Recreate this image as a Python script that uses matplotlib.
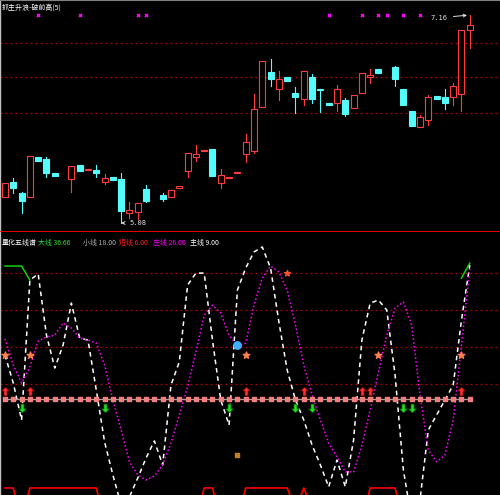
import numpy as np
import matplotlib
matplotlib.use('Agg')
import matplotlib.pyplot as plt
from matplotlib.patches import Rectangle
from matplotlib.path import Path

plt.rcParams['font.family'] = ['Noto Sans CJK SC', 'DejaVu Sans']

nan = np.nan
# daily candles (index = trading day, nan = no bar drawn)
opens = [5.34, 5.49, 5.38, 5.34, 5.74, 5.72, 5.58, nan, 5.52, 5.66,
         5.61, 5.61, 5.49, 5.54, 5.52, 5.18, 5.19, 5.42, nan, 5.36,
         5.34, 5.43, 5.60, 5.74, 5.80, 5.82, 5.48, 5.53, 5.58, 5.77,
         5.80, 6.24, 6.59, 6.42, 6.54, 6.38, 6.32, 6.54, 6.42, 6.28,
         6.28, 6.31, 6.23, 6.38, 6.54, 6.62, nan, 6.64, 6.42, 6.20,
         6.04, 6.11, 6.35, 6.34, 6.34, 6.37, 7.01]
closes = [5.48, 5.43, 5.30, 5.75, 5.70, 5.58, 5.55, nan, 5.65, 5.60,
          5.62, 5.58, 5.53, 5.51, 5.20, 5.21, 5.28, 5.30, nan, 5.32,
          5.41, 5.45, 5.78, 5.77, 5.81, 5.55, 5.56, 5.54, 5.59, 5.89,
          6.22, 6.70, 6.52, 6.52, 6.50, 6.34, 6.60, 6.32, 6.41, 6.26,
          6.42, 6.17, 6.36, 6.58, 6.56, 6.58, nan, 6.52, 6.26, 6.05,
          6.14, 6.34, 6.32, 6.28, 6.45, 7.01, 7.06]
highs = [5.48, 5.53, 5.39, 5.75, 5.74, 5.74, 5.58, nan, 5.65, 5.66,
         5.62, 5.66, 5.57, 5.54, 5.58, 5.29, 5.28, 5.46, nan, 5.38,
         5.41, 5.45, 5.78, 5.86, 5.81, 5.82, 5.62, 5.54, 5.59, 5.97,
         6.37, 6.70, 6.72, 6.60, 6.54, 6.44, 6.60, 6.57, 6.42, 6.28,
         6.46, 6.33, 6.36, 6.58, 6.62, 6.62, nan, 6.65, 6.42, 6.20,
         6.16, 6.36, 6.35, 6.42, 6.48, 7.01, 7.16]
lows = [5.34, 5.38, 5.18, 5.34, 5.70, 5.54, 5.55, nan, 5.39, 5.60,
        5.61, 5.54, 5.47, 5.51, 5.08, 5.13, 5.12, 5.29, nan, 5.30,
        5.34, 5.43, 5.54, 5.70, 5.80, 5.55, 5.43, 5.53, 5.58, 5.69,
        5.78, 6.24, 6.45, 6.31, 6.50, 6.18, 6.26, 6.28, 6.19, 6.26,
        6.20, 6.15, 6.23, 6.38, 6.48, 6.58, nan, 6.45, 6.26, 6.05,
        6.04, 6.06, 6.32, 6.22, 6.26, 6.20, 6.83]
top_signal_days = [4, 9, 16, 17, 39, 43, 45, 46, 48, 50]
price_grid = [6.88, 6.54, 6.18]

# five-line oscillator
zhu_line = [35.6, 20.5, 0.5, 76.1, 79.4, 46.4, 28.6, 41.0, 63.7, 44.8,
            43.7, 16.7, -11.3, -29.2, -45.4, -41.0, -30.8, -20.0, -10.8, -23.8,
            19.4, 31.9, 73.4, 79.9, 79.9, 43.7, 11.3, -2.2, 70.7, 82.6,
            91.3, 94.0, 82.6, 53.5, 27.5, 11.3, 0.5, -13.0, -23.8, -35.6,
            -21.1, -35.6, -10.3, 43.7, 63.7, 65.3, 59.9, 24.8, -26.5, -53.5,
            -42.7, -4.9, 3.2, 11.3, 19.4, 54.5, 84.2]
zhuang_line = [44.3, 30.2, 20.5, 29.2, 43.2, 45.4, 46.4, 52.9, 50.2, 44.8,
               43.7, 42.1, 30.2, 11.3, -4.9, -22.1, -29.2, -31.9, -29.7, -23.8,
               -11.9, 3.2, 18.4, 37.3, 57.2, 62.6, 58.3, 46.4, 40.5, 42.1,
               62.6, 77.2, 83.7, 80.5, 70.7, 51.8, 30.2, 14.0, 0.5, -11.9,
               -19.4, -27.5, -27.5, -13.0, 5.9, 26.5, 46.4, 61.0, 64.3, 51.8,
               14.0, -15.7, -22.1, -18.4, 0.5, 41.0, 82.6]
da_line = [83.7, 83.7, 83.7, 76.1] + [nan] * 51 + [77.2, 85.3]
duan_line = [-36.2, -36.2, -53.5] + [-36.2] * 9 + [-53.5] * 12 + [-36.2, -36.2] \
    + [-53.5] * 3 + [-36.2] * 6 + [-47.5, -36.2, -47.5] + [-53.5] * 6 \
    + [-36.2] * 4 + [-53.5] * 9
base_level = 12.0
osc_grid = [20, 40, 60, 80]
buy_days = [0, 3, 29, 36, 43, 44, 55]
sell_days = [2, 12, 27, 35, 37, 48, 49]
star_days = [0, 3, 29, 45, 55]

days = np.arange(len(opens))
RED = '#ff3c3c'
CYAN = '#54fcfc'

fig = plt.figure(figsize=(5, 4.95), dpi=100, facecolor='black')
ax1 = fig.add_axes([0, 263 / 495, 1, 232 / 495])
ax2 = fig.add_axes([0, 0, 1, 263 / 495])
for ax in (ax1, ax2):
    ax.set_facecolor('black')
    ax.set_xticks([])
    ax.set_yticks([])
    for s in ax.spines.values():
        s.set_visible(False)
    ax.spines['left'].set_visible(True)
    ax.spines['left'].set_color('#c0c0c0')
    ax.spines['left'].set_linewidth(1)
    ax.set_xlim(-0.6, 59.64)
ax1.spines['bottom'].set_visible(True)
ax1.spines['bottom'].set_color('#e00000')
ax1.spines['bottom'].set_linewidth(1.5)
ax1.spines['top'].set_visible(True)
ax1.spines['top'].set_color('#808080')
ax1.set_ylim(4.99, 7.31)
ax2.set_ylim(-40.0, 102.1)

# ---- price panel ----
for g in price_grid:
    ax1.axhline(g, color='#b00000', lw=0.9, ls=(0, (1.5, 2.5)), zorder=1)

w = 0.72
for d, o, c, h, l in zip(days, opens, closes, highs, lows):
    if np.isnan(o):
        continue
    up = c >= o
    col = RED if up else CYAN
    lo_b, hi_b = min(o, c), max(o, c)
    ax1.plot([d, d], [l, h], color=col, lw=0.8, zorder=2)
    ax1.add_patch(Rectangle((d - w / 2, lo_b), w, max(hi_b - lo_b, 0.006),
                            facecolor='black' if up else col, edgecolor=col,
                            lw=0.8, zorder=3))

ax1.scatter(top_signal_days, [7.16] * len(top_signal_days), marker='x',
            s=5, color='#ff00ff', lw=1, zorder=4)

hi_i = int(np.nanargmax(highs))
lo_i = int(np.nanargmin(lows))
ax1.annotate(f'{highs[hi_i]:.2f}', xy=(hi_i, highs[hi_i]), xytext=(-28, -2),
             textcoords='offset points', color='#e0e0e0', fontsize=5,
             family='DejaVu Sans Mono', va='center',
             arrowprops=dict(arrowstyle='->', color='#e0e0e0', lw=0.7))
ax1.annotate(f'{lows[lo_i]:.2f}', xy=(lo_i, lows[lo_i]), xytext=(6, 0),
             textcoords='offset points', color='#e0e0e0', fontsize=5,
             family='DejaVu Sans Mono', va='center',
             arrowprops=dict(arrowstyle='->', color='#e0e0e0', lw=0.7))
ax1.text(0.004, 0.985, '抓主升浪-破前高(5)', transform=ax1.transAxes,
         color='white', fontsize=5, va='top', ha='left')

# ---- oscillator panel ----
for g in osc_grid:
    ax2.axhline(g, color='#b00000', lw=0.9, ls=(0, (1.5, 2.5)), zorder=1)
ax2.plot(days, duan_line, color='#ff0000', lw=1.2, zorder=2)
ax2.plot(days, da_line, color='#10d010', lw=1.1, zorder=2)
ax2.plot(days, zhu_line, color='white', lw=1.1, ls=(0, (3, 2.5)), zorder=3)
ax2.plot(days, zhuang_line, color='#ff00ff', lw=1.1, ls=(0, (1, 1.5)), zorder=3)

ax2.plot([0, days[-1]], [base_level, base_level], color='#a0a0a0', lw=1, zorder=4)
ax2.scatter(days, [base_level] * len(days), marker='s', s=9,
            color='#f08080', zorder=5)

up_arrow = Path([(0, 1), (-0.9, 0.1), (-0.35, 0.1), (-0.35, -1), (0.35, -1),
                 (0.35, 0.1), (0.9, 0.1), (0, 1)])
down_arrow = Path([(x, -y) for x, y in up_arrow.vertices])
ax2.scatter(buy_days, [16.2] * len(buy_days), marker=up_arrow, s=40,
            color='#ff3030', edgecolor='#700000', lw=0.5, zorder=6)
ax2.scatter(sell_days, [7.0] * len(sell_days), marker=down_arrow, s=40,
            color='#20e020', edgecolor='#006000', lw=0.5, zorder=6)
ax2.scatter(star_days, [35.6] * len(star_days), marker='*', s=25,
            color='#ff8050', zorder=6)
ax2.scatter([28], [41.0], marker='o', s=28, color='#40b0ff', zorder=6)
ax2.scatter([34], [80.0], marker='*', s=18, color='#ff5030', zorder=6)
ax2.scatter([28], [-18.4], marker='s', s=9, color='#c08020', zorder=6)

head = [('量化五线谱', 'white', 0.004), ('大线 36.66', '#30e030', 0.076),
        ('小线 18.00', '#b0b0b0', 0.166), ('短线 6.00', '#ff2020', 0.238),
        ('庄线 26.00', '#ff00ff', 0.306), ('主线 9.00', 'white', 0.38)]
for txt, col, x in head:
    ax2.text(x, 0.975, txt, transform=ax2.transAxes, color=col,
             fontsize=5, va='top', ha='left')

fig.savefig('out.png', dpi=100, facecolor='black')
